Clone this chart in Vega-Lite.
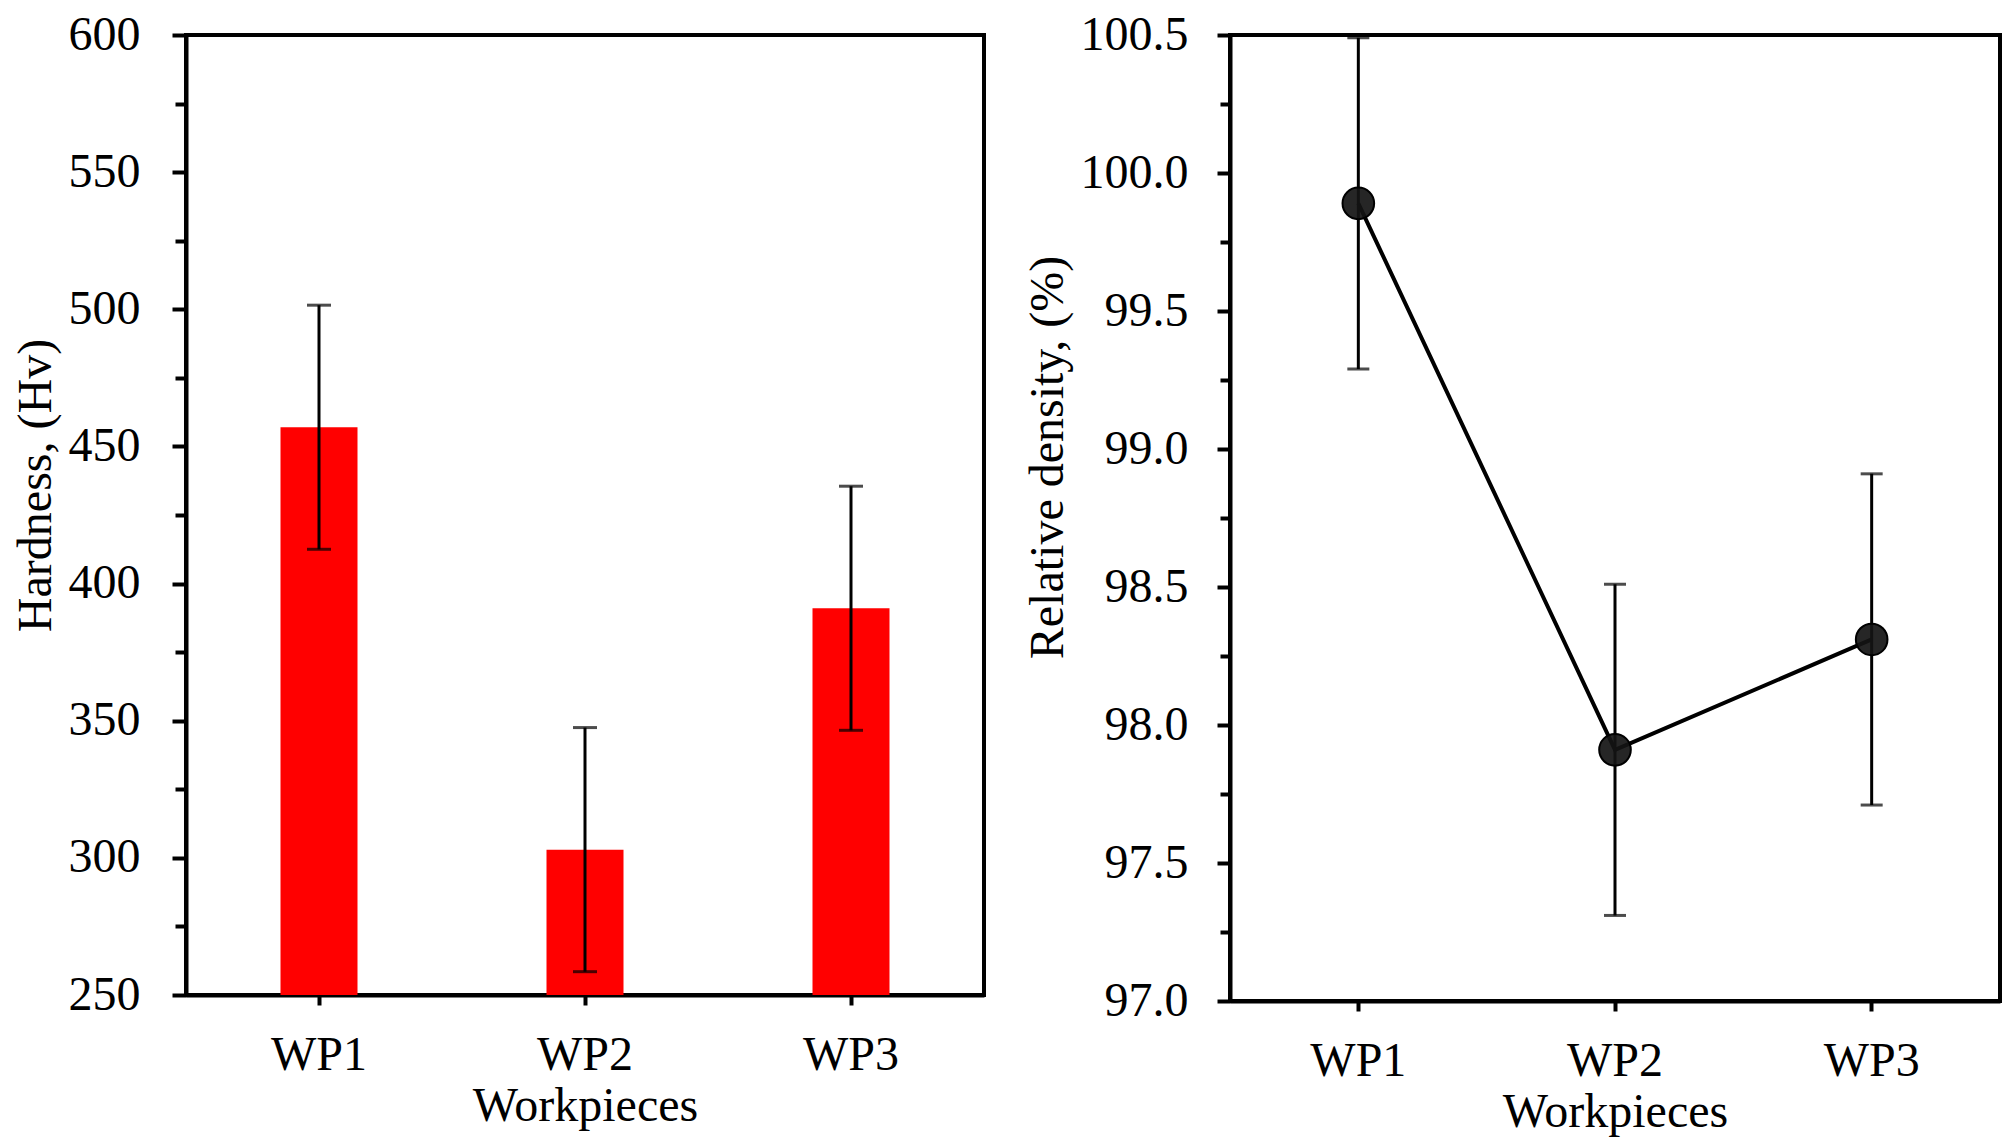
{
  "$schema": "https://vega.github.io/schema/vega-lite/v6.json",
  "background": "white",
  "padding": {"left": 10, "top": 9, "right": 10, "bottom": 5},
  "spacing": 36,
  "data": {
    "values": [
      {"wp": "WP1", "hardness": 457, "hard_err": 44.5, "density": 99.89, "dens_err": 0.6},
      {"wp": "WP2", "hardness": 303, "hard_err": 44.5, "density": 97.91, "dens_err": 0.6},
      {"wp": "WP3", "hardness": 391, "hard_err": 44.5, "density": 98.31, "dens_err": 0.6}
    ]
  },
  "hconcat": [
    {
      "width": 798,
      "height": 960,
      "encoding": {
        "x": {
          "field": "wp",
          "type": "nominal",
          "scale": {"type": "band", "paddingInner": 0, "paddingOuter": 0},
          "axis": {"title": "Workpieces", "labelAngle": 0, "tickSize": 10, "labelPadding": 26, "titlePadding": 3}
        },
        "y": {
          "field": "hardness",
          "type": "quantitative",
          "scale": {"domain": [250, 600], "nice": false, "zero": false},
          "axis": {
            "title": "Hardness, (Hv)",
            "values": [250, 275, 300, 325, 350, 375, 400, 425, 450, 475, 500, 525, 550, 575, 600],
            "labelExpr": "datum.value % 50 === 0 ? datum.label : ''",
            "tickSize": {"condition": {"test": "datum.value % 50 === 0", "value": 14}, "value": 11},
            "labelPadding": 32,
            "titlePadding": 8,
            "titleY": 450
          }
        }
      },
      "layer": [
        {
          "mark": {"type": "bar", "color": "#ff0000", "size": 77, "clip": true}
        },
        {
          "mark": {"type": "errorbar", "color": "black", "thickness": 3, "ticks": {"size": 24, "thickness": 3, "color": "black"}},
          "encoding": {
            "yError": {"field": "hard_err"}
          }
        }
      ]
    },
    {
      "width": 770,
      "height": 966,
      "encoding": {
        "x": {
          "field": "wp",
          "type": "nominal",
          "scale": {"type": "band", "paddingInner": 0, "paddingOuter": 0},
          "axis": {"title": "Workpieces", "labelAngle": 0, "tickSize": 10, "labelPadding": 26, "titlePadding": 3}
        },
        "y": {
          "field": "density",
          "type": "quantitative",
          "scale": {"domain": [97, 100.5], "nice": false, "zero": false},
          "axis": {
            "title": "Relative density, (%)",
            "values": [97, 97.25, 97.5, 97.75, 98, 98.25, 98.5, 98.75, 99, 99.25, 99.5, 99.75, 100, 100.25, 100.5],
            "format": ".1f",
            "labelExpr": "abs(datum.value * 2 - round(datum.value * 2)) < 0.001 ? datum.label : ''",
            "tickSize": {"condition": {"test": "abs(datum.value * 2 - round(datum.value * 2)) < 0.001", "value": 13}, "value": 10},
            "labelPadding": 29,
            "titlePadding": 8,
            "titleY": 422
          }
        }
      },
      "layer": [
        {
          "mark": {"type": "line", "color": "black", "strokeWidth": 4}
        },
        {
          "mark": {"type": "errorbar", "color": "black", "thickness": 3, "ticks": {"size": 22, "thickness": 3, "color": "black"}},
          "encoding": {
            "yError": {"field": "dens_err"}
          }
        },
        {
          "mark": {"type": "point", "shape": "circle", "filled": true, "size": 1000, "fill": "#141414", "fillOpacity": 0.92, "stroke": "black", "strokeWidth": 2}
        }
      ]
    }
  ],
  "config": {
    "font": "Liberation Serif",
    "view": {"stroke": "black", "strokeWidth": 4},
    "axis": {
      "grid": false,
      "domainColor": "black",
      "domainWidth": 4,
      "tickColor": "black",
      "tickWidth": 4,
      "labelFont": "Liberation Serif",
      "labelFontSize": 48,
      "labelColor": "black",
      "titleFont": "Liberation Serif",
      "titleFontSize": 48,
      "titleFontWeight": "normal",
      "titleColor": "black"
    }
  }
}
